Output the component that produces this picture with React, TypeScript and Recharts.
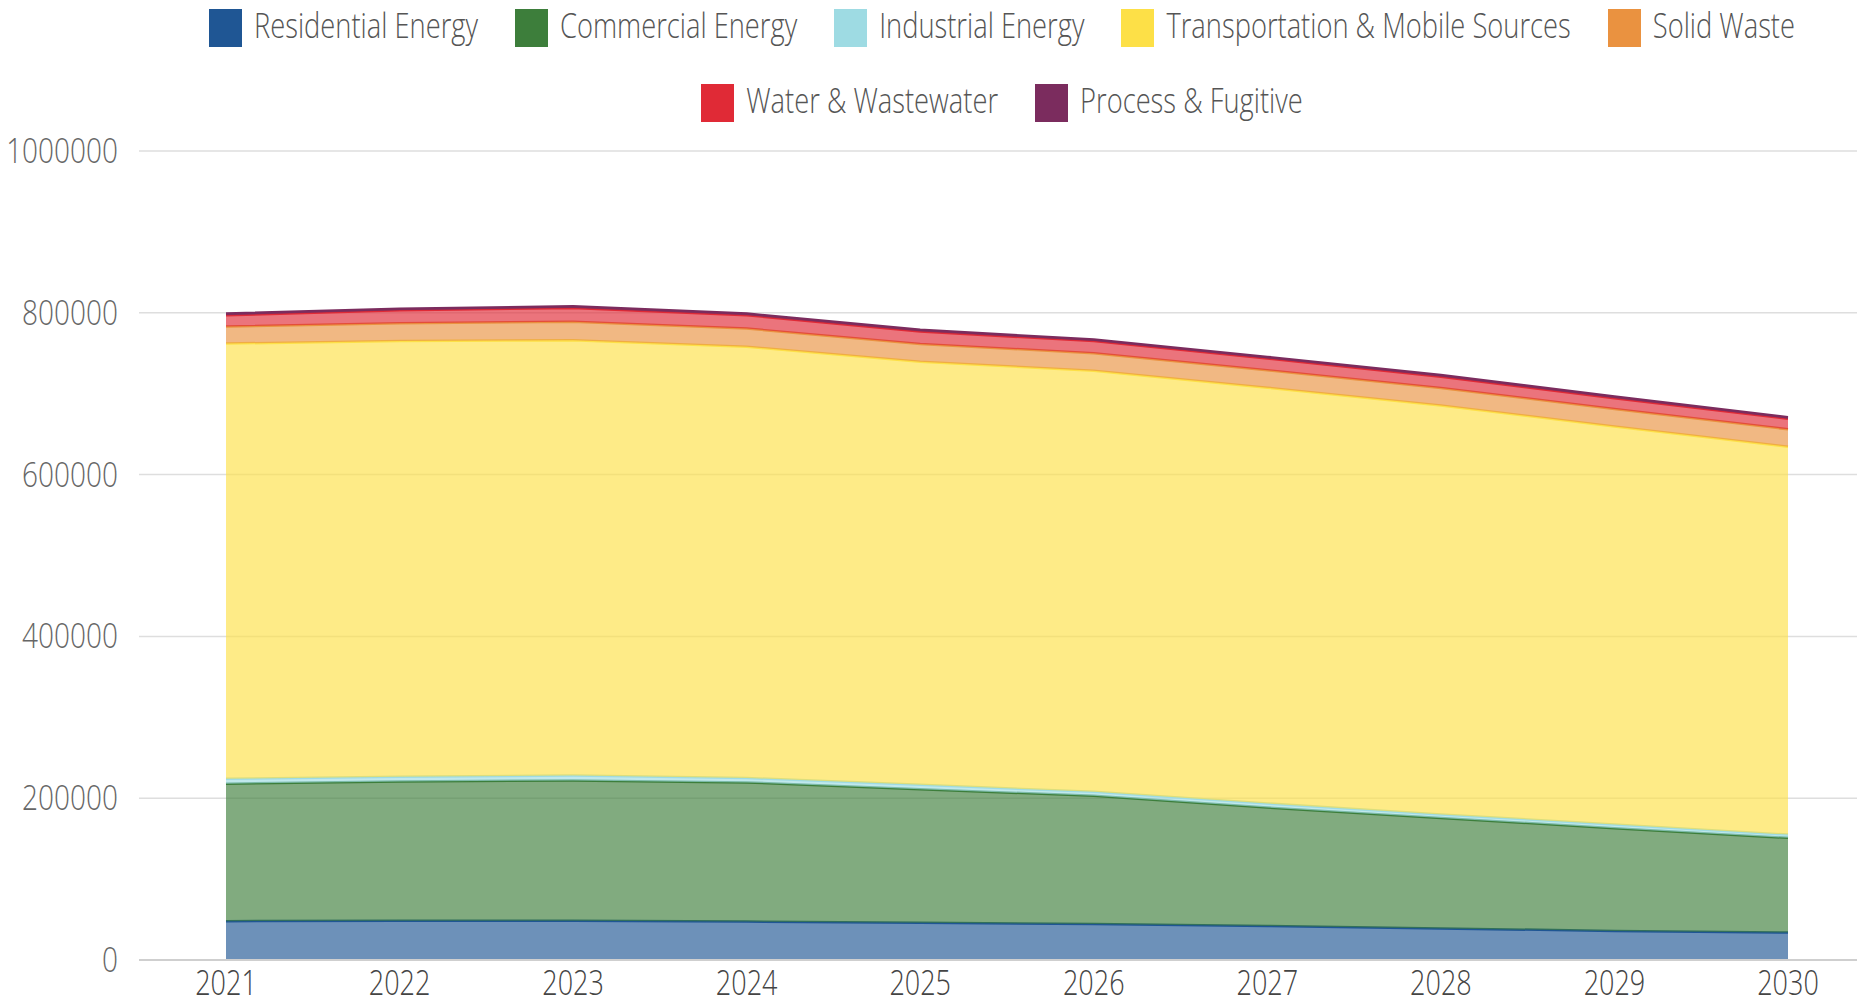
import { AreaChart, Area, XAxis, YAxis, CartesianGrid } from 'recharts';

const years = ['2021', '2022', '2023', '2024', '2025', '2026', '2027', '2028', '2029', '2030'];
const residential = [48000, 48500, 48500, 47500, 46000, 44500, 42000, 39000, 36000, 34000];
const commercial = [170000, 172000, 173500, 172000, 165000, 158500, 146500, 136500, 127000, 117000];
const industrial = [6000, 6000, 6000, 5500, 5500, 5000, 5000, 4500, 4500, 4000];
const transportation = [538000, 538500, 538000, 533000, 523000, 520500, 514000, 505500, 492000, 479500];
const solidWaste = [21000, 22000, 23000, 22500, 22000, 21500, 21500, 21500, 21500, 21500];
const water = [14000, 16000, 17000, 16500, 15500, 15000, 14500, 14000, 13500, 13000];
const processFugitive = [2000, 2000, 2000, 2000, 2000, 2000, 2000, 2000, 2000, 2000];
const yTicks = [0, 200000, 400000, 600000, 800000, 1000000];

const series = [
  { key: 'residential', name: 'Residential Energy', color: '#1f5694', values: residential },
  { key: 'commercial', name: 'Commercial Energy', color: '#3d7e3b', values: commercial },
  { key: 'industrial', name: 'Industrial Energy', color: '#9edbe3', values: industrial },
  { key: 'transportation', name: 'Transportation & Mobile Sources', color: '#fde047', values: transportation },
  { key: 'solidWaste', name: 'Solid Waste', color: '#ea9240', values: solidWaste },
  { key: 'water', name: 'Water & Wastewater', color: '#e02a36', values: water },
  { key: 'process', name: 'Process & Fugitive', color: '#7b2c5e', values: processFugitive },
];

const data = years.map((year, i) => {
  const row: Record<string, string | number> = { year };
  series.forEach((s) => (row[s.key] = s.values[i]));
  return row;
});

const FONT = '"Open Sans", sans-serif';

function XTick({ x, y, payload }: any) {
  return (
    <text
      transform={`translate(${x},${y + 35}) scale(1,1.3)`}
      textAnchor="middle"
      fontFamily={FONT}
      fontWeight={300}
      fontSize={27}
      fill="#444"
    >
      {payload.value}
    </text>
  );
}

function YTick({ x, y, payload }: any) {
  return (
    <text
      transform={`translate(${x - 21},${y + 12}) scale(1,1.25)`}
      textAnchor="end"
      fontFamily={FONT}
      fontWeight={300}
      fontSize={28}
      fill="#666"
    >
      {payload.value}
    </text>
  );
}

function LegendRow({ items, top }: { items: typeof series; top: number }) {
  return (
    <div
      style={{
        position: 'absolute',
        left: 0,
        width: 2004,
        top,
        height: 38,
        display: 'flex',
        justifyContent: 'center',
        alignItems: 'center',
        gap: 37,
      }}
    >
      {items.map((s) => (
        <div key={s.key} style={{ display: 'flex', alignItems: 'center' }}>
          <div style={{ width: 33, height: 38, background: s.color, marginRight: 12 }} />
          <span
            style={{
              display: 'inline-block',
              fontFamily: FONT,
              fontWeight: 300,
              fontSize: 27.3,
              lineHeight: 1,
              color: '#555',
              whiteSpace: 'nowrap',
              transform: 'translateY(-3px) scaleY(1.28)',
            }}
          >
            {s.name}
          </span>
        </div>
      ))}
    </div>
  );
}

export default function App() {
  return (
    <div
      style={{
        position: 'fixed',
        left: 0,
        top: 0,
        width: 1857,
        height: 1005,
        overflow: 'hidden',
        background: '#fff',
      }}
    >
      <LegendRow items={series.slice(0, 5)} top={9} />
      <LegendRow items={series.slice(5)} top={84} />
      <div style={{ position: 'absolute', left: 0, top: 0 }}>
        <AreaChart width={1857} height={1005} data={data} margin={{ top: 151, right: 0, left: 0, bottom: 0 }}>
          <CartesianGrid vertical={false} stroke="#dedede" strokeWidth={1.5} />
          <XAxis
            dataKey="year"
            height={45}
            padding={{ left: 87, right: 69 }}
            interval={0}
            tickLine={false}
            tickSize={0}
            tickMargin={0}
            axisLine={{ stroke: '#cfcfcf', strokeWidth: 2 }}
            tick={<XTick />}
          />
          <YAxis
            width={139}
            domain={[0, 1000000]}
            ticks={yTicks}
            interval={0}
            axisLine={false}
            tickLine={false}
            tickSize={0}
            tickMargin={0}
            tick={<YTick />}
          />
          {series.map((s) => (
            <Area
              key={s.key}
              type="linear"
              dataKey={s.key}
              name={s.name}
              stackId="1"
              stroke={s.color}
              strokeWidth={2.5}
              fill={s.color}
              fillOpacity={0.65}
              dot={false}
              activeDot={false}
              isAnimationActive={false}
            />
          ))}
        </AreaChart>
      </div>
    </div>
  );
}
